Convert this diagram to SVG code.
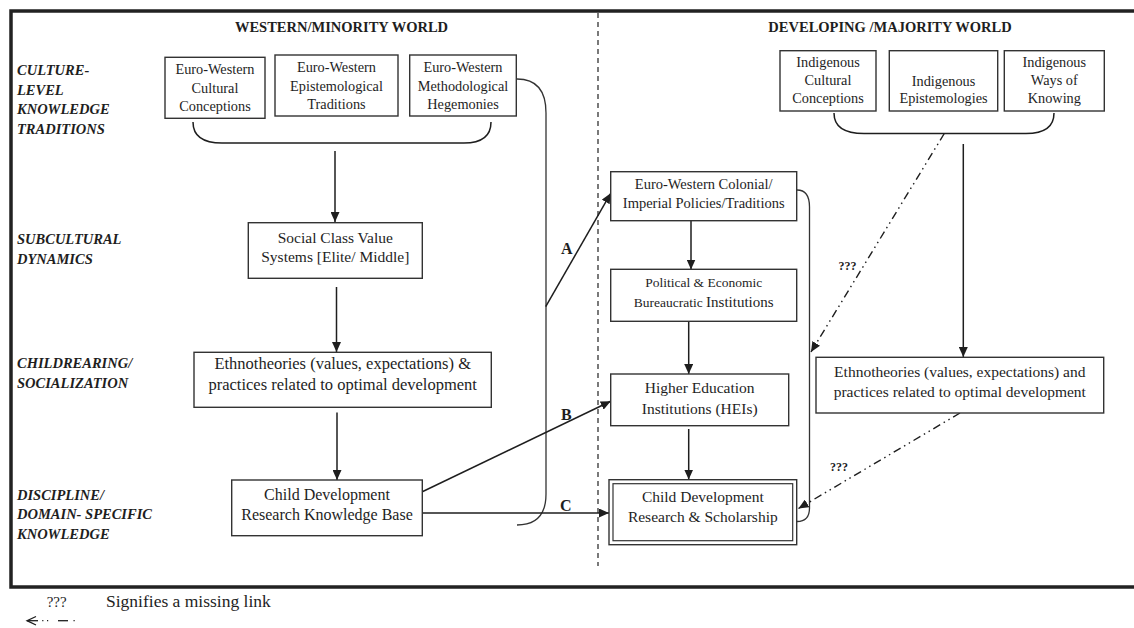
<svg xmlns="http://www.w3.org/2000/svg" width="1134" height="628" viewBox="0 0 1134 628">
<defs>
<style>
.box{fill:#fff;stroke:#333;stroke-width:1.4}
.t{font-family:'Liberation Serif','Times New Roman',serif;fill:#1e1e1e;text-anchor:middle}
.lbl{font-family:'Liberation Serif','Times New Roman',serif;font-weight:bold;font-style:italic;font-size:14.5px;fill:#1e1e1e}
.hd{font-family:'Liberation Serif','Times New Roman',serif;font-weight:bold;font-size:14.5px;fill:#1e1e1e;text-anchor:middle}
.ln{fill:none;stroke:#1e1e1e;stroke-width:1.5}
.thin{fill:none;stroke:#333;stroke-width:1.3}
.dd{fill:none;stroke:#1e1e1e;stroke-width:1.4;stroke-dasharray:8 4 1.5 4 1.5 4}
.abc{font-family:'Liberation Serif','Times New Roman',serif;font-weight:bold;font-size:16px;fill:#1e1e1e}
.q{font-family:'Liberation Serif','Times New Roman',serif;font-weight:bold;font-size:12px;fill:#1e1e1e}
</style>
<marker id="ah" markerUnits="userSpaceOnUse" markerWidth="10" markerHeight="9" refX="10" refY="4.5" orient="auto">
<path d="M0,0 L10,4.5 L0,9 z" fill="#1e1e1e"/>
</marker>
</defs>
<rect width="1134" height="628" fill="#fff"/>
<rect x="11" y="11" width="1140" height="576" fill="none" stroke="#222" stroke-width="3.5"/>
<line x1="598" y1="13" x2="598" y2="566" stroke="#222" stroke-width="1.2" stroke-dasharray="5 4"/>

<text class="hd" x="341.5" y="32">WESTERN/MINORITY WORLD</text>
<text class="hd" x="890" y="32">DEVELOPING /MAJORITY WORLD</text>

<g id="row-labels">
<text class="lbl" x="17" y="75">CULTURE-</text>
<text class="lbl" x="17" y="94.5">LEVEL</text>
<text class="lbl" x="17" y="114">KNOWLEDGE</text>
<text class="lbl" x="17" y="133.5">TRADITIONS</text>
<text class="lbl" x="17" y="243.5">SUBCULTURAL</text>
<text class="lbl" x="17" y="263.5">DYNAMICS</text>
<text class="lbl" x="17" y="367.5">CHILDREARING/</text>
<text class="lbl" x="17" y="388">SOCIALIZATION</text>
<text class="lbl" x="17" y="499.5">DISCIPLINE/</text>
<text class="lbl" x="17" y="519">DOMAIN- SPECIFIC</text>
<text class="lbl" x="17" y="538.5">KNOWLEDGE</text>
</g>

<g id="connectors">
<path class="ln" d="M193,122 Q193,143 222,143 L464,143 Q491,143 491,122"/>
<path class="ln" d="M834,113 Q834,133.5 864,133.5 L1026,133.5 Q1054,133.5 1054,113"/>
<path class="thin" d="M517,79 Q546,79 546,113 L546,494 Q546,525 517,525"/>
<path class="thin" d="M797,190 Q809.5,190 809.5,207 L809.5,508 Q809.5,521.5 797,521.5"/>
<line class="ln" x1="335" y1="151" x2="335" y2="222" marker-end="url(#ah)"/>
<line class="ln" x1="336.5" y1="287" x2="336.5" y2="352" marker-end="url(#ah)"/>
<line class="ln" x1="337" y1="412.5" x2="337" y2="480" marker-end="url(#ah)"/>
<line class="ln" x1="691" y1="221" x2="691" y2="269.5" marker-end="url(#ah)"/>
<line class="ln" x1="688.7" y1="321.5" x2="688.7" y2="374" marker-end="url(#ah)"/>
<line class="ln" x1="688.7" y1="429" x2="688.7" y2="479.5" marker-end="url(#ah)"/>
<line class="ln" x1="963.3" y1="144" x2="963.3" y2="357" marker-end="url(#ah)"/>
<line class="ln" x1="545.7" y1="306.7" x2="610.7" y2="193.3" marker-end="url(#ah)"/>
<line class="ln" x1="422.3" y1="491.7" x2="610.7" y2="401.3" marker-end="url(#ah)"/>
<line class="ln" x1="422.3" y1="513" x2="609" y2="513" marker-end="url(#ah)"/>
<path class="dd" d="M944.3,133.5 L811,352" marker-end="url(#ah)"/>
<path class="dd" d="M960,413 L798.5,508.5" marker-end="url(#ah)"/>
<text class="abc" x="561" y="254">A</text>
<text class="abc" x="561" y="420">B</text>
<text class="abc" x="560" y="510.7">C</text>
<text class="q" x="838.5" y="270">???</text>
<text class="q" x="830" y="471">???</text>
</g>

<g id="ew-cultural">
<rect class="box" x="165" y="57.3" width="100" height="61"/>
<text class="t" font-size="14.3" x="215" y="74">Euro-Western</text>
<text class="t" font-size="14.3" x="215" y="92.5">Cultural</text>
<text class="t" font-size="14.3" x="215" y="111">Conceptions</text>
</g>
<g id="ew-epistemological">
<rect class="box" x="275" y="55" width="123" height="61"/>
<text class="t" font-size="14.3" x="336.5" y="72">Euro-Western</text>
<text class="t" font-size="14.3" x="336.5" y="90.5">Epistemological</text>
<text class="t" font-size="14.3" x="336.5" y="109">Traditions</text>
</g>
<g id="ew-methodological">
<rect class="box" x="409.7" y="55" width="106.6" height="61"/>
<text class="t" font-size="14.3" x="463" y="72">Euro-Western</text>
<text class="t" font-size="14.3" x="463" y="90.5">Methodological</text>
<text class="t" font-size="14.3" x="463" y="109">Hegemonies</text>
</g>
<g id="social-class">
<rect class="box" x="248.3" y="222.7" width="174" height="55.6"/>
<text class="t" font-size="15.5" x="335.3" y="243">Social Class Value</text>
<text class="t" font-size="15.5" x="335.3" y="262">Systems [Elite/ Middle]</text>
</g>
<g id="ethno-west">
<rect class="box" x="194" y="352.3" width="297.3" height="55"/>
<text class="t" font-size="16.5" x="342.7" y="369">Ethnotheories (values, expectations) &amp;</text>
<text class="t" font-size="16.5" x="342.7" y="389.5">practices related to optimal development</text>
</g>
<g id="cd-knowledge">
<rect class="box" x="231.7" y="480" width="190.6" height="55.7"/>
<text class="t" font-size="16" x="327" y="500">Child Development</text>
<text class="t" font-size="16" x="327" y="519.5">Research Knowledge Base</text>
</g>

<g id="ind-cultural">
<rect class="box" x="780" y="50.7" width="96" height="60.3"/>
<text class="t" font-size="14.3" x="828" y="66.7">Indigenous</text>
<text class="t" font-size="14.3" x="828" y="85">Cultural</text>
<text class="t" font-size="14.3" x="828" y="102.7">Conceptions</text>
</g>
<g id="ind-epistemologies">
<rect class="box" x="889.3" y="50.7" width="108.4" height="60.3"/>
<text class="t" font-size="14.3" x="943.5" y="85.5">Indigenous</text>
<text class="t" font-size="14.3" x="943.5" y="102.5">Epistemologies</text>
</g>
<g id="ind-ways">
<rect class="box" x="1004.3" y="50.7" width="100" height="60.3"/>
<text class="t" font-size="14.3" x="1054.3" y="66.7">Indigenous</text>
<text class="t" font-size="14.3" x="1054.3" y="85">Ways of</text>
<text class="t" font-size="14.3" x="1054.3" y="102.7">Knowing</text>
</g>
<g id="colonial">
<rect class="box" x="610.7" y="171.7" width="186" height="49"/>
<text class="t" font-size="14.5" x="703.7" y="189">Euro-Western Colonial/</text>
<text class="t" font-size="14.5" x="703.7" y="207.5">Imperial Policies/Traditions</text>
</g>
<g id="political">
<rect class="box" x="610.7" y="269.3" width="186" height="52"/>
<text class="t" font-size="13.5" x="703.7" y="287">Political &amp; Economic</text>
<text class="t" font-size="13.5" x="703.7" y="307">Bureaucratic <tspan font-size="15">Institutions</tspan></text>
</g>
<g id="hei">
<rect class="box" x="610.7" y="374" width="178" height="51.7"/>
<text class="t" font-size="15.5" x="699.7" y="393">Higher Education</text>
<text class="t" font-size="15.5" x="699.7" y="413.5">Institutions (HEIs)</text>
</g>
<g id="cd-scholarship">
<rect class="box" x="609" y="479.7" width="187.7" height="65" stroke-width="2"/>
<rect x="613" y="483.7" width="179.7" height="57" fill="none" stroke="#333" stroke-width="1.2"/>
<text class="t" font-size="15.5" x="702.8" y="501.5">Child Development</text>
<text class="t" font-size="15.5" x="702.8" y="522">Research &amp; Scholarship</text>
</g>
<g id="ethno-majority">
<rect class="box" x="816" y="357.3" width="287.7" height="55.7"/>
<text class="t" font-size="15.5" x="959.8" y="376.5">Ethnotheories (values, expectations) and</text>
<text class="t" font-size="15.5" x="959.8" y="396.5">practices related to optimal development</text>
</g>

<g id="legend">
<text class="t" font-size="15" x="56.7" y="606.5">???</text>
<text font-family="'Liberation Serif','Times New Roman',serif" font-size="17.5" fill="#1e1e1e" x="106" y="607.3">Signifies a missing link</text>
<polyline points="36,616.5 27,620.7 36,625" fill="none" stroke="#1e1e1e" stroke-width="1.3"/>
<line x1="27" y1="620.7" x2="38" y2="620.7" stroke="#1e1e1e" stroke-width="1.3"/>
<line x1="42.2" y1="620.7" x2="43.4" y2="620.7" stroke="#1e1e1e" stroke-width="1.3"/>
<line x1="47" y1="620.7" x2="48.2" y2="620.7" stroke="#1e1e1e" stroke-width="1.3"/>
<line x1="58" y1="620.7" x2="68" y2="620.7" stroke="#1e1e1e" stroke-width="1.3"/>
<line x1="73.5" y1="620.7" x2="74.7" y2="620.7" stroke="#1e1e1e" stroke-width="1.3"/>
</g>
</svg>
